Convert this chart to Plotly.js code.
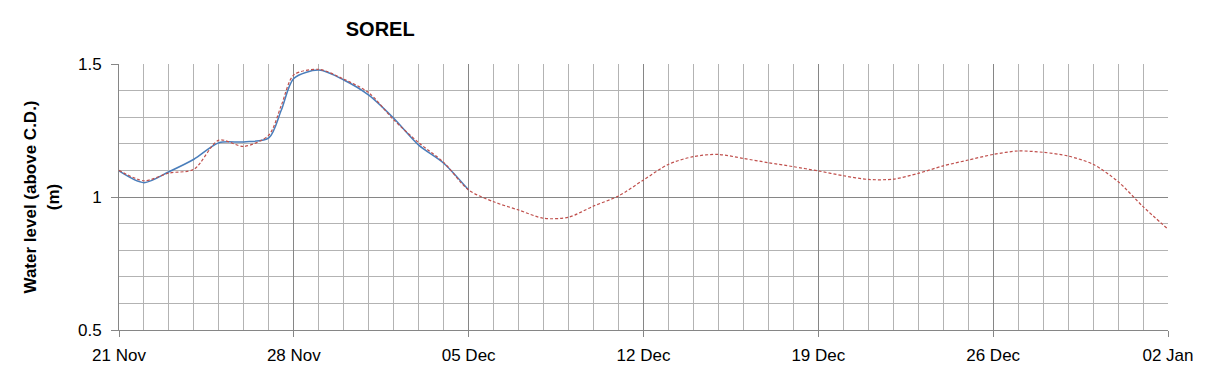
<!DOCTYPE html>
<html>
<head>
<meta charset="utf-8">
<script src="https://cdn.plot.ly/plotly-3.0.1.min.js"></script>
<style>html,body{margin:0;padding:0;background:#fff;}#chart{width:1209px;height:378px;}</style>
</head>
<body>
<div id="chart"></div>
<script>
// Observed water level (blue, solid)
const obsDates = ["2013-11-21","2013-11-22","2013-11-23","2013-11-24","2013-11-25","2013-11-26","2013-11-27","2013-11-27 12:00","2013-11-28","2013-11-29","2013-11-30","2013-12-01","2013-12-02","2013-12-03","2013-12-04","2013-12-05"];
const obsLevels = [1.098,1.054,1.095,1.142,1.204,1.207,1.222,1.327,1.446,1.477,1.440,1.383,1.296,1.195,1.127,1.026];

// Forecast water level (red, dashed)
const fcDates = ["2013-11-21","2013-11-22","2013-11-23","2013-11-24","2013-11-25","2013-11-26","2013-11-27","2013-11-27 12:00","2013-11-28","2013-11-29","2013-11-30","2013-12-01","2013-12-02","2013-12-03","2013-12-04","2013-12-05","2013-12-06","2013-12-07","2013-12-08","2013-12-09","2013-12-10","2013-12-11","2013-12-12","2013-12-13","2013-12-14","2013-12-15","2013-12-16","2013-12-17","2013-12-18","2013-12-19","2013-12-20","2013-12-21","2013-12-22","2013-12-23","2013-12-24","2013-12-25","2013-12-26","2013-12-27","2013-12-28","2013-12-29","2013-12-30","2013-12-31","2014-01-01","2014-01-02"];
const fcLevels = [1.100,1.061,1.090,1.104,1.214,1.190,1.233,1.345,1.459,1.480,1.443,1.392,1.290,1.204,1.130,1.026,0.982,0.951,0.920,0.924,0.966,1.004,1.064,1.123,1.152,1.160,1.145,1.129,1.114,1.098,1.080,1.066,1.067,1.089,1.117,1.139,1.160,1.173,1.168,1.154,1.123,1.058,0.964,0.879];

const xTickVals = ["2013-11-21","2013-11-28","2013-12-05","2013-12-12","2013-12-19","2013-12-26","2014-01-02"];
const xTickText = ["21 Nov","28 Nov","05 Dec","12 Dec","19 Dec","26 Dec","02 Jan"];
const yTickVals = [0.5,1,1.5];
const yTickText = ["0.5","1","1.5"];

const font = "Liberation Sans, Arial, sans-serif";

const traces = [
  {x: obsDates, y: obsLevels, type: "scatter", mode: "lines",
   line: {color: "#4A7EBB", width: 1.5, shape: "spline", smoothing: 0.8}, hoverinfo: "skip"},
  {x: fcDates, y: fcLevels, type: "scatter", mode: "lines",
   line: {color: "#C0504D", width: 1.2, dash: "3px,2px", shape: "spline", smoothing: 0.8}, hoverinfo: "skip"}
];

const layout = {
  width: 1209, height: 378,
  margin: {l: 119, r: 41, t: 64, b: 48},
  paper_bgcolor: "#ffffff", plot_bgcolor: "#ffffff",
  showlegend: false,
  title: {text: "<b>SOREL</b>", x: 0.249, xref: "paper", xanchor: "center", y: 0.923, yref: "container", yanchor: "middle",
          font: {family: font, size: 20, color: "#000"}},
  xaxis: {
    type: "date",
    range: ["2013-11-21", "2014-01-02"],
    tickmode: "array", tickvals: xTickVals, ticktext: xTickText,
    ticks: "outside", ticklen: 6, tickcolor: "#868686",
    ticklabelstandoff: 4,
    showgrid: true, gridcolor: "#868686", gridwidth: 1,
    minor: {dtick: 86400000, tick0: "2013-11-21", showgrid: true, gridcolor: "#b3b3b3", gridwidth: 1, ticks: ""},
    showline: true, linecolor: "#868686", linewidth: 1,
    zeroline: false,
    tickfont: {family: font, size: 17, color: "#000"}
  },
  yaxis: {
    range: [0.5, 1.5],
    tickmode: "array", tickvals: yTickVals, ticktext: yTickText,
    ticks: "outside", ticklen: 7, tickcolor: "#868686",
    ticklabelstandoff: 6,
    showgrid: true, gridcolor: "#868686", gridwidth: 1,
    minor: {dtick: 0.1, tick0: 0.5, showgrid: true, gridcolor: "#b3b3b3", gridwidth: 1, ticks: ""},
    showline: true, linecolor: "#868686", linewidth: 1,
    zeroline: false,
    tickfont: {family: font, size: 17, color: "#000"},
    title: {text: "<b>Water level (above C.D.)<br>(m)</b>", font: {family: font, size: 17, color: "#000"}, standoff: 14}
  }
};

Plotly.newPlot("chart", traces, layout, {staticPlot: true, displayModeBar: false});
</script>
</body>
</html>
